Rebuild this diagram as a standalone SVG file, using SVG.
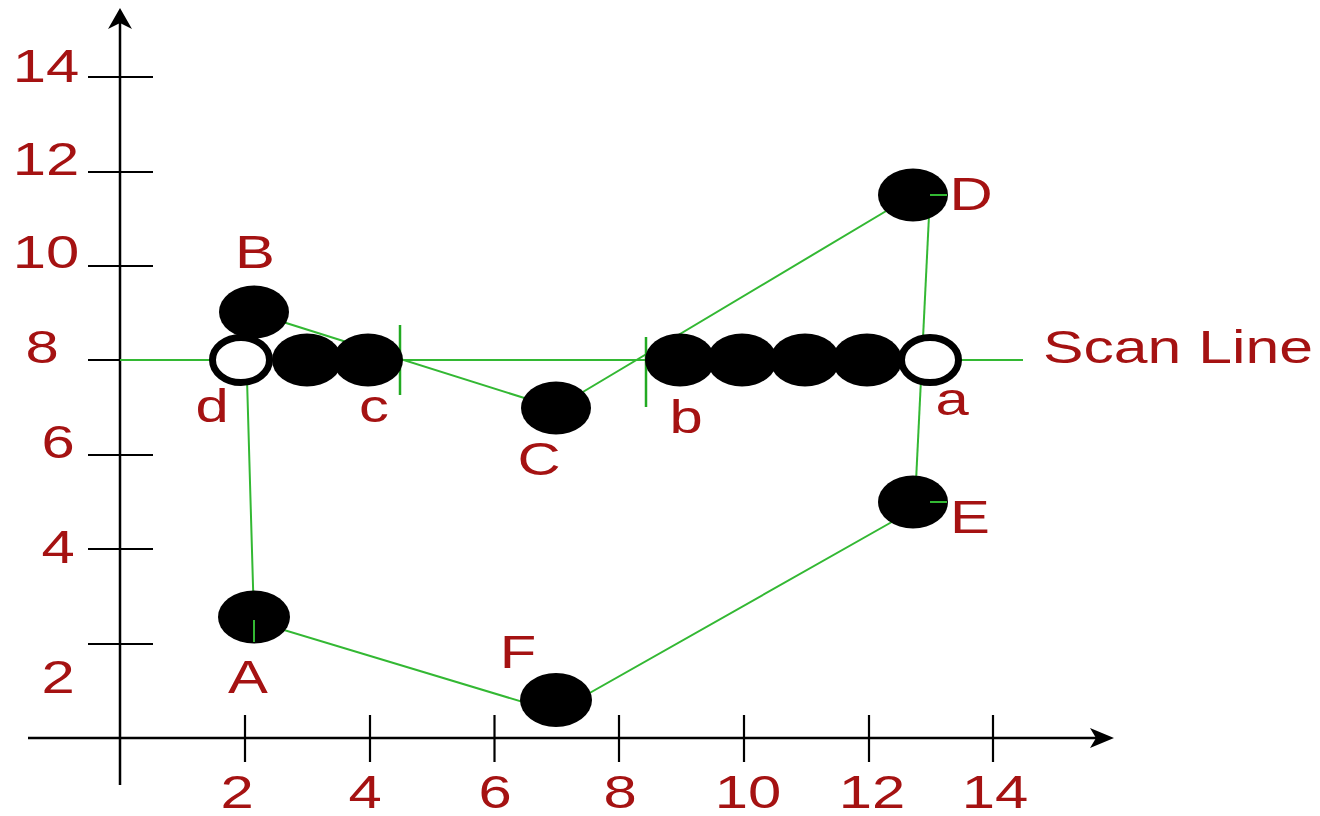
<svg xmlns="http://www.w3.org/2000/svg" width="1320" height="816" viewBox="0 0 1320 816">
<style>
.ax{stroke:#000;stroke-width:2.5;fill:none}
.tk{stroke:#000;stroke-width:2.2;fill:none}
.g{stroke:#33b833;stroke-width:2;fill:none}
.gt{stroke:#22aa22;stroke-width:2.5;fill:none}
.dot{fill:#000}
.open{fill:#fff;stroke:#000;stroke-width:7}
.lb{font-family:"Liberation Sans",Arial,sans-serif;font-size:46px;fill:#a51212;text-anchor:middle}
.st{text-anchor:start}
</style>
<rect width="1320" height="816" fill="#fff"/>
<g id="axes">
<line class="ax" x1="120" y1="785" x2="120" y2="20"/>
<path d="M120,8 L132,29 L120,23 L108,29 Z" fill="#000"/>
<line class="ax" x1="28" y1="738" x2="1100" y2="738"/>
<path d="M1114,738 L1090,728 L1096,738 L1090,748 Z" fill="#000"/>
<g class="tk">
<line x1="88" y1="77" x2="153" y2="77"/>
<line x1="88" y1="172" x2="153" y2="172"/>
<line x1="88" y1="266" x2="153" y2="266"/>
<line x1="88" y1="360" x2="153" y2="360"/>
<line x1="88" y1="455" x2="153" y2="455"/>
<line x1="88" y1="549" x2="153" y2="549"/>
<line x1="88" y1="644" x2="153" y2="644"/>
<line x1="245" y1="715" x2="245" y2="762"/>
<line x1="370" y1="715" x2="370" y2="762"/>
<line x1="494.5" y1="715" x2="494.5" y2="762"/>
<line x1="619" y1="715" x2="619" y2="762"/>
<line x1="744" y1="715" x2="744" y2="762"/>
<line x1="869" y1="715" x2="869" y2="762"/>
<line x1="993" y1="715" x2="993" y2="762"/>
</g>
<text class="lb" transform="translate(46,82) scale(1.3,1)">14</text>
<text class="lb" transform="translate(46,175) scale(1.3,1)">12</text>
<text class="lb" transform="translate(46,268) scale(1.3,1)">10</text>
<text class="lb" transform="translate(42,363) scale(1.3,1)">8</text>
<text class="lb" transform="translate(58,458) scale(1.3,1)">6</text>
<text class="lb" transform="translate(58,563) scale(1.3,1)">4</text>
<text class="lb" transform="translate(58,693) scale(1.3,1)">2</text>
<text class="lb" transform="translate(237,808) scale(1.3,1)">2</text>
<text class="lb" transform="translate(365,808) scale(1.3,1)">4</text>
<text class="lb" transform="translate(495,808) scale(1.3,1)">6</text>
<text class="lb" transform="translate(620,808) scale(1.3,1)">8</text>
<text class="lb" transform="translate(748,808) scale(1.3,1)">10</text>
<text class="lb" transform="translate(872,808) scale(1.3,1)">12</text>
<text class="lb" transform="translate(995,808) scale(1.3,1)">14</text>
</g>
<g id="connectors">
<line class="g" x1="120" y1="360" x2="1023" y2="360"/>
<polyline class="g" points="254,620 245,310 556,408 913,195"/>
<line class="g" x1="930" y1="195" x2="915" y2="502"/>
<polyline class="g" points="913,510 556,712 254,621"/>
<line class="gt" x1="400" y1="325" x2="400" y2="395"/>
<line class="gt" x1="646" y1="337" x2="646" y2="407"/>
</g>
<g id="node-B"><ellipse class="dot" cx="254" cy="312" rx="35" ry="26.5"/><text class="lb" transform="translate(255,268) scale(1.3,1)">B</text></g>
<g id="node-d"><ellipse class="open" cx="241" cy="360" rx="28.5" ry="22.5"/><text class="lb" transform="translate(212,422) scale(1.3,1)">d</text></g>
<g id="node-p3"><ellipse class="dot" cx="307" cy="360" rx="35" ry="26.5"/></g>
<g id="node-c"><ellipse class="dot" cx="368" cy="360" rx="35" ry="26.5"/><text class="lb" transform="translate(374,422) scale(1.3,1)">c</text></g>
<g id="node-C"><ellipse class="dot" cx="556" cy="408" rx="35" ry="26.5"/><text class="lb" transform="translate(539,475) scale(1.3,1)">C</text></g>
<g id="node-b"><ellipse class="dot" cx="680" cy="360" rx="35" ry="26.5"/><text class="lb" transform="translate(686,433) scale(1.3,1)">b</text></g>
<g id="node-p10"><ellipse class="dot" cx="742" cy="360" rx="35" ry="26.5"/></g>
<g id="node-p11"><ellipse class="dot" cx="805" cy="360" rx="35" ry="26.5"/></g>
<g id="node-p12"><ellipse class="dot" cx="867" cy="360" rx="35" ry="26.5"/></g>
<g id="node-a"><ellipse class="open" cx="930" cy="360" rx="28.5" ry="22.5"/><text class="lb" transform="translate(952,415) scale(1.3,1)">a</text></g>
<g id="node-D"><ellipse class="dot" cx="913" cy="195" rx="35" ry="26.5"/><line class="g" x1="930" y1="195" x2="947" y2="195"/><text class="lb" transform="translate(971,210) scale(1.3,1)">D</text></g>
<g id="node-E"><ellipse class="dot" cx="913" cy="502" rx="35" ry="26.5"/><line class="g" x1="930" y1="502" x2="947" y2="502"/><text class="lb" transform="translate(970,533) scale(1.3,1)">E</text></g>
<g id="node-A"><ellipse class="dot" cx="254" cy="617" rx="36" ry="26.5"/><line class="g" x1="254" y1="620" x2="254" y2="642"/><text class="lb" transform="translate(248,693) scale(1.3,1)">A</text></g>
<g id="node-F"><ellipse class="dot" cx="556" cy="700" rx="36" ry="27"/><text class="lb" transform="translate(518,668) scale(1.3,1)">F</text></g>
<g id="label-scan"><text class="lb st" transform="translate(1043,363) scale(1.32,1)">Scan Line</text></g>
</svg>
